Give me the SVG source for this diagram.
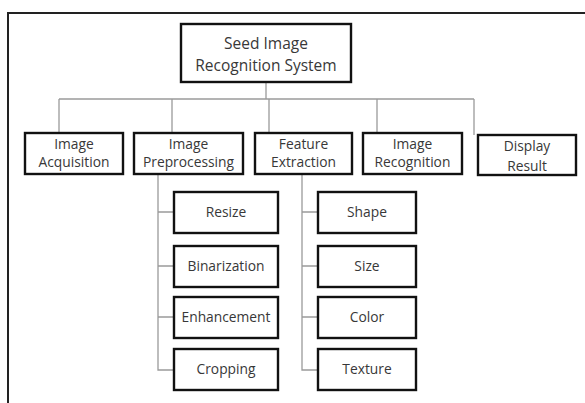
<svg xmlns="http://www.w3.org/2000/svg" width="585" height="403" viewBox="0 0 585 403">
  <style>
    .box { fill: #ffffff; stroke: #111111; stroke-width: 2.4; }
    .wire { fill: none; stroke: #9a9a9a; stroke-width: 1.3; }
    .frame { fill: none; stroke: #222222; stroke-width: 2; }
    text { font-family: "Open Sans", "Noto Sans", sans-serif; fill: #383838; text-anchor: middle; }
    .t1 { font-size: 15.5px; }
    .t2 { font-size: 13.8px; }
  </style>
  <rect x="0" y="0" width="585" height="403" fill="#ffffff"/>
  <!-- outer frame: top and left edges -->
  <path class="frame" d="M8,403 V13 H585"/>

  <g id="connectors">
    <path class="wire" d="M266,82 V99"/>
    <path class="wire" d="M59,99 H474"/>
    <path class="wire" d="M59,99 V133 M172,99 V133 M269,99 V133 M377,99 V133 M474,99 V135"/>
    <path class="wire" d="M158,174 V370 H174 M158,212 H174 M158,266 H174 M158,317 H174"/>
    <path class="wire" d="M302,174 V370 H318 M302,212 H318 M302,266 H318 M302,317 H318"/>
  </g>

  <g id="root">
    <rect class="box" x="181" y="24" width="170" height="58"/>
    <text class="t1" x="266" y="49">Seed Image</text>
    <text class="t1" x="266" y="71">Recognition System</text>
  </g>

  <g id="acquisition">
    <rect class="box" x="25" y="133" width="98" height="41"/>
    <text class="t2" x="74" y="149">Image</text>
    <text class="t2" x="74" y="167">Acquisition</text>
  </g>
  <g id="preprocessing">
    <rect class="box" x="134" y="133" width="109" height="41"/>
    <text class="t2" x="188.5" y="149">Image</text>
    <text class="t2" x="188.5" y="167">Preprocessing</text>
  </g>
  <g id="extraction">
    <rect class="box" x="255" y="133" width="97" height="41"/>
    <text class="t2" x="303.5" y="149">Feature</text>
    <text class="t2" x="303.5" y="167">Extraction</text>
  </g>
  <g id="recognition">
    <rect class="box" x="363" y="133" width="99" height="41"/>
    <text class="t2" x="412.5" y="149">Image</text>
    <text class="t2" x="412.5" y="167">Recognition</text>
  </g>
  <g id="display">
    <rect class="box" x="478" y="135" width="98" height="40"/>
    <text class="t2" x="527" y="151">Display</text>
    <text class="t2" x="527" y="170.5">Result</text>
  </g>

  <g id="resize">
    <rect class="box" x="174" y="192" width="104" height="41"/>
    <text class="t2" x="226" y="217">Resize</text>
  </g>
  <g id="binarization">
    <rect class="box" x="174" y="246" width="104" height="41"/>
    <text class="t2" x="226" y="271">Binarization</text>
  </g>
  <g id="enhancement">
    <rect class="box" x="174" y="297" width="104" height="41"/>
    <text class="t2" x="226" y="322">Enhancement</text>
  </g>
  <g id="cropping">
    <rect class="box" x="174" y="349" width="104" height="41"/>
    <text class="t2" x="226" y="374">Cropping</text>
  </g>

  <g id="shape">
    <rect class="box" x="318" y="192" width="98" height="41"/>
    <text class="t2" x="367" y="217">Shape</text>
  </g>
  <g id="size">
    <rect class="box" x="318" y="246" width="98" height="41"/>
    <text class="t2" x="367" y="271">Size</text>
  </g>
  <g id="color">
    <rect class="box" x="318" y="297" width="98" height="41"/>
    <text class="t2" x="367" y="322">Color</text>
  </g>
  <g id="texture">
    <rect class="box" x="318" y="349" width="98" height="41"/>
    <text class="t2" x="367" y="374">Texture</text>
  </g>
</svg>
